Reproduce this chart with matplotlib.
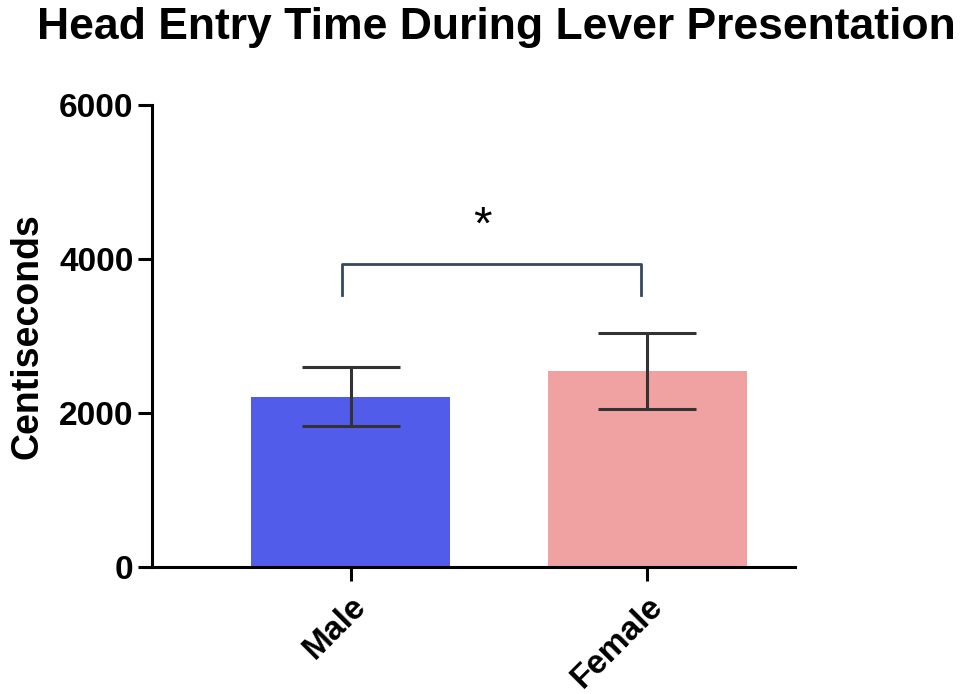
import matplotlib.pyplot as plt
import numpy as np

plt.rcParams['font.family'] = ['Liberation Sans', 'DejaVu Sans']
plt.rcParams['font.weight'] = 'bold'

groups = ['Male', 'Female']
means = [2210, 2540]
sem = [385, 495]
colors = ['#525CEB', '#F0A2A2']

fig = plt.figure(figsize=(9.63, 6.94), dpi=100)
ax = fig.add_axes([0.158, 0.183, 0.668, 0.666])

x = np.arange(len(groups))
ax.bar(x, means, width=0.67, color=colors)
ax.errorbar(x, means, yerr=sem, fmt='none', ecolor='#333333', elinewidth=2.2,
            capsize=35, capthick=2.2)

# significance bracket
by, drop = 3935, 400
ax.plot([x[0] - 0.03, x[0] - 0.03, x[1] - 0.02, x[1] - 0.02],
        [by - drop, by, by, by - drop], color='#34495e', lw=2.0,
        solid_joinstyle='round')
ax.text((x[0] + x[1]) / 2 - 0.055, by + 480, '*', ha='center', va='center',
        fontsize=34, fontweight='normal')

ax.set_xlim(-0.67, 1.5)
ax.set_ylim(0, 6000)
ax.set_yticks([0, 2000, 4000, 6000])
ax.set_xticks(x)
ax.set_xticklabels(groups, rotation=45, ha='right', rotation_mode='anchor')
ax.tick_params(axis='both', labelsize=24, width=2.2, length=10)
ax.tick_params(axis='x', pad=7)
ax.set_ylabel('Centiseconds', fontsize=27, fontweight='bold', labelpad=10)
for s in ['top', 'right']:
    ax.spines[s].set_visible(False)
for s in ['left', 'bottom']:
    ax.spines[s].set_linewidth(2.2)

fig.suptitle('Head Entry Time During Lever Presentation', fontsize=32,
             fontweight='bold', x=0.515, y=0.99)

fig.savefig('out.png', dpi=100)
